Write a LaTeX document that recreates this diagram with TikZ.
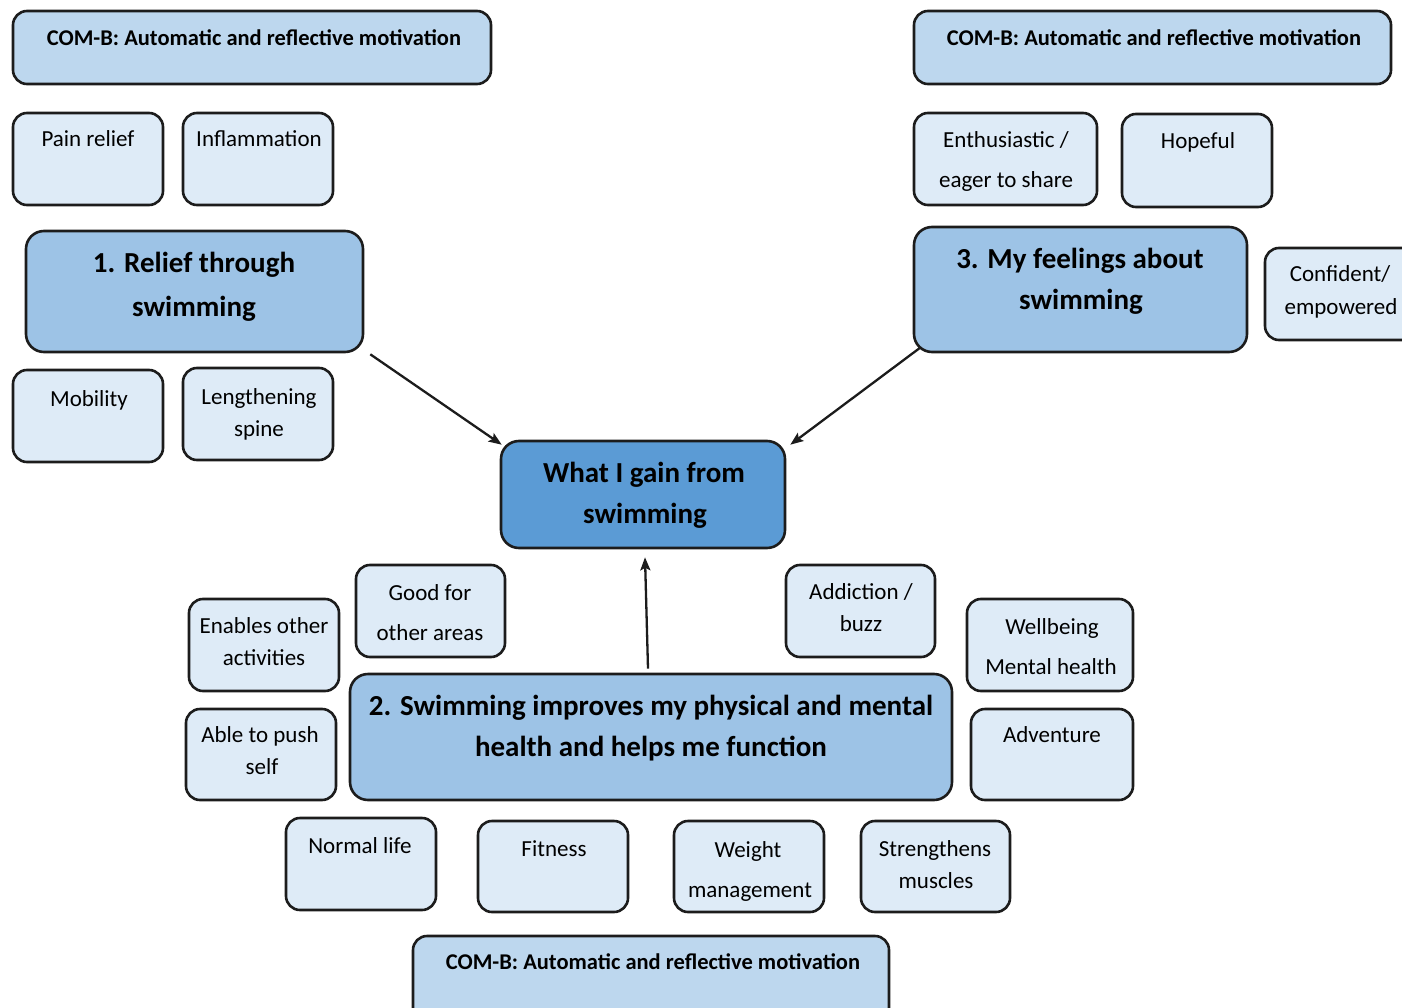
\documentclass[tikz,border=0pt]{standalone}
\usepackage{fontspec}
\setmainfont{Carlito}
\usetikzlibrary{arrows.meta}

\definecolor{edge}{HTML}{1C1C1C}
\definecolor{combfill}{HTML}{BDD7EE}
\definecolor{leaf}{HTML}{DEEBF7}
\definecolor{theme}{HTML}{9DC3E6}
\definecolor{core}{HTML}{5B9BD5}

% box placed by its corners (x1,y1) -- (x2,y2)
\newcommand\boxat[6]{\node[#6, minimum width={(#4-#2)*1pt}, minimum height={(#5-#3)*1pt}]
  (#1) at ({(#2+#4)/2},{(#3+#5)/2}) {};}

\tikzset{
  frame/.style={draw=edge, line width=2.6pt, inner sep=0pt, rounded corners=14pt},
  comb/.style={frame, fill=combfill},
  leafbox/.style={frame, fill=leaf},
  themebox/.style={frame, fill=theme, rounded corners=18pt},
  corebox/.style={frame, fill=core, rounded corners=18pt},
  lab/.style={anchor=base, inner sep=0pt, font=\fontsize{23}{26}\selectfont, yshift=-8pt},
  combl/.style={anchor=base, inner sep=0pt, font=\fontsize{22.5}{26}\selectfont\bfseries, yshift=-7.5pt},
  big/.style={anchor=base, inner sep=0pt, font=\fontsize{29}{33}\selectfont\bfseries, yshift=-9.5pt},
  link/.style={draw=edge, line width=2.3pt, -{Stealth[length=13pt,width=10pt,inset=2.5pt]}}
}

\begin{document}
\begin{tikzpicture}[x=1pt,y=-1pt]
\useasboundingbox (0,0) rectangle (1402,1008);
\clip (0,0) rectangle (1402,1008);

% COM-B headers
\boxat{combL}{13}{11}{491}{84}{comb}
\boxat{combR}{914}{11}{1391}{84}{comb}
\boxat{combB}{413}{936}{889}{1030}{comb}
\node[combl] (combL-t) at (254,38) {COM-B: Automatic and reflective motivation};
\node[combl] (combR-t) at (1154,38) {COM-B: Automatic and reflective motivation};
\node[combl] (combB-t) at (653,962) {COM-B: Automatic and reflective motivation};

% theme 1
\boxat{pain}{13}{113}{163}{205}{leafbox}
\boxat{infl}{183}{113}{333}{205}{leafbox}
\boxat{relief}{26}{231}{363}{352}{themebox}
\boxat{mob}{13}{370}{163}{462}{leafbox}
\boxat{spine}{183}{368}{333}{460}{leafbox}
\node[lab] (pain-t) at (88,139) {Pain relief};
\node[lab] (infl-t) at (259,139) {Inflammation};
\node[big] (relief-a) at (194,263) {1. Relief through};
\node[big] (relief-b) at (194,307) {swimming};
\node[lab] (mob-t) at (89,398) {Mobility};
\node[lab] (spine-a) at (259,396) {Lengthening};
\node[lab] (spine-b) at (259,428) {spine};

% theme 3
\boxat{enth}{914}{113}{1097}{205}{leafbox}
\boxat{hope}{1122}{114}{1272}{207}{leafbox}
\boxat{feel}{914}{227}{1247}{352}{themebox}
\boxat{conf}{1265}{248}{1420}{340}{leafbox}
\node[lab] (enth-a) at (1006,140) {Enthusiastic /};
\node[lab] (enth-b) at (1006,180) {eager to share};
\node[lab] (hope-t) at (1198,141) {Hopeful};
\node[big] (feel-a) at (1080,259) {3. My feelings about};
\node[big] (feel-b) at (1081,300) {swimming};
\node[lab] (conf-a) at (1340,274) {Confident/};
\node[lab] (conf-b) at (1341,306) {empowered};

% centre
\boxat{gain}{501}{441}{785}{548}{corebox}
\node[big] (gain-a) at (644,473) {What I gain from};
\node[big] (gain-b) at (645,514) {swimming};

% theme 2
\boxat{good}{356}{565}{505}{657}{leafbox}
\boxat{enab}{189}{599}{339}{691}{leafbox}
\boxat{addi}{786}{565}{935}{657}{leafbox}
\boxat{well}{967}{599}{1133}{691}{leafbox}
\boxat{health}{350}{674}{952}{800}{themebox}
\boxat{push}{186}{709}{336}{800}{leafbox}
\boxat{adv}{971}{709}{1133}{800}{leafbox}
\boxat{norm}{286}{818}{436}{910}{leafbox}
\boxat{fit}{478}{821}{628}{912}{leafbox}
\boxat{weight}{674}{821}{824}{912}{leafbox}
\boxat{musc}{861}{821}{1010}{912}{leafbox}
\node[lab] (good-a) at (430,592) {Good for};
\node[lab] (good-b) at (430,632) {other areas};
\node[lab] (enab-a) at (264,625) {Enables other};
\node[lab] (enab-b) at (264,657) {activities};
\node[lab] (addi-a) at (861,591) {Addiction /};
\node[lab] (addi-b) at (861,623) {buzz};
\node[lab] (well-a) at (1052,626) {Wellbeing};
\node[lab] (well-b) at (1051,666) {Mental health};
\node[big] (health-a) at (651,706) {2. Swimming improves my physical and mental};
\node[big] (health-b) at (651,747) {health and helps me function};
\node[lab] (push-a) at (260,734) {Able to push};
\node[lab] (push-b) at (262,766) {self};
\node[lab] (adv-t) at (1052,734) {Adventure};
\node[lab] (norm-t) at (360,845) {Normal life};
\node[lab] (fit-t) at (554,848) {Fitness};
\node[lab] (weight-a) at (748,849) {Weight};
\node[lab] (weight-b) at (750,889) {management};
\node[lab] (musc-a) at (935,848) {Strengthens};
\node[lab] (musc-b) at (936,880) {muscles};

% connectors into the centre
\draw[link] ([shift={(6,1)}]relief.south east) -- ([shift={(2,5)}]gain.north west);
\draw[link] ([shift={(8,-6)}]feel.south west) -- ([shift={(4,5)}]gain.north east);
\draw[link] ([shift={(-3,-4)}]health.north) -- ([shift={(2,8)}]gain.south);
\end{tikzpicture}
\end{document}
